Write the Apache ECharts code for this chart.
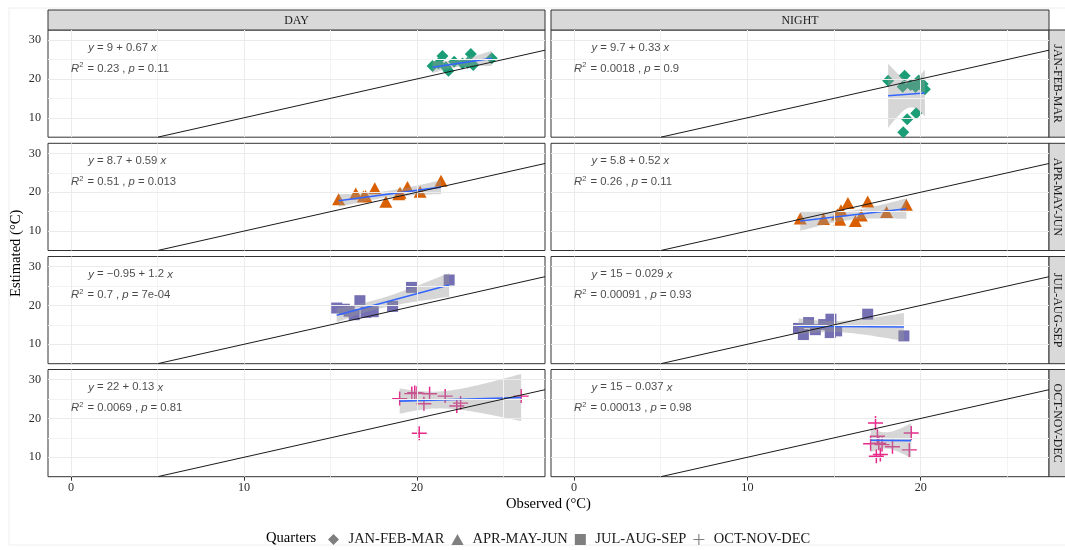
<!DOCTYPE html>
<html>
<head>
<meta charset="utf-8">
<script src="https://cdn.jsdelivr.net/npm/echarts@6/dist/echarts.min.js"></script>
<style>
  html, body { margin: 0; padding: 0; background: #ffffff; }
  #chart { width: 1065px; height: 550px; }
</style>
</head>
<body>
<div id="chart"></div>
<script>
// Facet labels
const periods = ['DAY', 'NIGHT'];
const quarters = ['JAN-FEB-MAR', 'APR-MAY-JUN', 'JUL-AUG-SEP', 'OCT-NOV-DEC'];
const quarterColors = ['#1B9E77', '#D95F02', '#7570B3', '#E7298A'];

// Observed vs estimated temperature (°C), one array per panel
const dayJFM = [[20.9,23.3],[21.24,24.0],[21.47,25.9],[21.67,23.0],[21.82,22.1],[22.15,24.45],[22.63,24.0],[22.93,24.2],[23.11,26.4],[23.25,23.6],[24.32,25.3]];
const dayAMJ = [[15.47,18.19],[16.46,19.68],[16.9,18.9],[17.03,19.03],[17.56,21.02],[18.2,17.57],[18.95,19.5],[19.02,19.88],[19.45,21.35],[20.18,20.14],[21.39,22.97]];
const dayJAS = [[15.36,19.34],[15.8,19.03],[16.08,18.5],[16.37,17.62],[16.7,21.22],[17.05,18.21],[17.47,18.39],[18.59,19.76],[19.68,24.65],[21.86,26.55]];
const dayOND = [[19.0,25.11],[19.7,26.4],[19.87,26.65],[20.0,26.5],[20.13,16.2],[20.4,23.8],[20.73,26.35],[21.63,25.75],[22.3,23.2],[22.52,23.95],[26.02,25.75]];
const nightJFM = [[18.12,19.55],[18.96,18.01],[18.99,6.27],[19.07,20.81],[19.22,9.61],[19.42,18.44],[19.7,17.93],[19.74,11.16],[19.88,19.6],[20.11,18.7],[20.24,17.34]];
const nightAMJ = [[13.05,13.22],[14.39,13.11],[15.19,14.3],[15.33,12.93],[15.4,15.38],[15.8,17.23],[16.23,12.57],[16.57,14.04],[16.94,17.64],[18.03,14.89],[19.17,16.8]];
const nightJAS = [[12.95,14.09],[13.23,12.5],[13.53,15.59],[13.92,13.76],[14.4,15.07],[14.78,13.01],[14.82,16.46],[15.15,13.45],[16.94,17.75],[19.03,12.16]];
const nightOND = [[17.11,13.47],[17.39,18.83],[17.44,10.26],[17.5,15.41],[17.58,13.6],[17.67,10.7],[17.77,13.27],[18.37,12.7],[19.34,11.9],[19.45,16.25]];

// Fitted regression: intercept, slope, R² and p per quarter
const dayIntercepts = [9, 8.7, -0.95, 22];
const daySlopes = [0.67, 0.59, 1.2, 0.13];
const dayR2 = ['0.23', '0.51', '0.7', '0.0069'];
const dayP = ['0.11', '0.013', '7e-04', '0.81'];
const nightIntercepts = [9.7, 5.8, 15, 15];
const nightSlopes = [0.33, 0.52, -0.029, -0.037];
const nightR2 = ['0.0018', '0.26', '0.00091', '0.00013'];
const nightP = ['0.9', '0.11', '0.93', '0.98'];

// Axes
const xRange = [-1.33, 27.4];
const yRange = [5, 32.6];
const xTicks = [0, 10, 20];
const yTicks = [10, 20, 30];
const xMinor = [5, 15, 25];
const yMinor = [15, 25];

// Two-sided 95% t quantiles by degrees of freedom
const tQuantile = { 6: 2.447, 7: 2.365, 8: 2.306, 9: 2.262, 10: 2.228, 11: 2.201, 12: 2.179 };

const panelPoints = [
  [dayJFM, dayAMJ, dayJAS, dayOND],
  [nightJFM, nightAMJ, nightJAS, nightOND]
];
const panelFits = [
  { a: dayIntercepts, b: daySlopes, r2: dayR2, p: dayP },
  { a: nightIntercepts, b: nightSlopes, r2: nightR2, p: nightP }
];

// Layout of the facet grid (pixels)
const colLeft = [48, 551];
const colWidth = [497, 498];
const rowTop = [30, 143.3, 256.5, 369.5];
const rowHeight = 107.2;
const serif = 'Liberation Serif';
const sans = 'Liberation Sans';

const symbols = ['diamond', 'triangle', 'rect',
  'path://M0,6.3H14V7.7H0Z M6.3,0H7.7V14H6.3Z'];
const symbolSizes = [[12, 12], [13, 12], [11, 11], [15, 14]];

function fmtNum(v) {
  return v < 0 ? '\u2212' + (-v) : String(v);
}

// Confidence band around the fitted line (lm-style 95% interval)
function confidenceBand(pts, a, b) {
  const n = pts.length;
  const xs = pts.map(p => p[0]);
  const mx = xs.reduce((s, v) => s + v, 0) / n;
  const sxx = xs.reduce((s, v) => s + (v - mx) * (v - mx), 0);
  const sse = pts.reduce((s, p) => s + Math.pow(p[1] - (a + b * p[0]), 2), 0);
  const sd = Math.sqrt(sse / (n - 2));
  const t = tQuantile[n - 2];
  const x0 = Math.min.apply(null, xs), x1 = Math.max.apply(null, xs);
  const upper = [], lower = [];
  const steps = 60;
  for (let k = 0; k <= steps; k++) {
    const x = x0 + (x1 - x0) * k / steps;
    const fit = a + b * x;
    const se = sd * Math.sqrt(1 / n + (x - mx) * (x - mx) / sxx);
    upper.push([x, fit + t * se]);
    lower.push([x, fit - t * se]);
  }
  return { poly: upper.concat(lower.reverse()), x0: x0, x1: x1 };
}

const grids = [], xAxes = [], yAxes = [], series = [];
let gi = 0;
for (let r = 0; r < 4; r++) {
  for (let c = 0; c < 2; c++) {
    const pts = panelPoints[c][r];
    const fitInfo = panelFits[c];
    const a = fitInfo.a[r], b = fitInfo.b[r];
    const isBottom = r === 3, isLeft = c === 0;

    grids.push({
      left: colLeft[c], top: rowTop[r], width: colWidth[c], height: rowHeight,
      show: true, backgroundColor: '#ffffff', borderColor: '#333333', borderWidth: 1
    });
    xAxes.push({
      gridIndex: gi, type: 'value', min: xRange[0], max: xRange[1], splitNumber: 3,
      axisLine: { show: false },
      splitLine: { show: false },
      axisTick: { show: isBottom, length: 4, customValues: xTicks, lineStyle: { color: '#333333', width: 1 } },
      axisLabel: { show: isBottom, customValues: xTicks,
        margin: 5, fontFamily: serif, fontSize: 12.2, color: '#2b2b2b' }
    });
    yAxes.push({
      gridIndex: gi, type: 'value', min: yRange[0], max: yRange[1], splitNumber: 3,
      axisLine: { show: false },
      splitLine: { show: false },
      axisTick: { show: isLeft, length: 4, customValues: yTicks, lineStyle: { color: '#333333', width: 1 } },
      axisLabel: { show: isLeft, customValues: yTicks,
        margin: 7, fontFamily: serif, fontSize: 12.2, color: '#2b2b2b' }
    });

    // Panel gridlines
    const major = { color: '#EBEBEB', width: 1, type: 'solid' };
    const minor = { color: '#F3F3F3', width: 1, type: 'solid' };
    const lines = []
      .concat(xMinor.map(v => ({ xAxis: v, lineStyle: minor })))
      .concat(yMinor.map(v => ({ yAxis: v, lineStyle: minor })))
      .concat(xTicks.map(v => ({ xAxis: v, lineStyle: major })))
      .concat(yTicks.map(v => ({ yAxis: v, lineStyle: major })));
    series.push({
      type: 'line', xAxisIndex: gi, yAxisIndex: gi, z: 1, silent: true,
      data: [[xRange[0], yRange[0]]], symbol: 'none', lineStyle: { width: 0 },
      markLine: { silent: true, symbol: ['none', 'none'], label: { show: false },
        animation: false, data: lines }
    });

    // Observations
    series.push({
      type: 'scatter', name: quarters[r], xAxisIndex: gi, yAxisIndex: gi, z: 2, silent: true,
      data: pts, symbol: symbols[r], symbolSize: symbolSizes[r],
      itemStyle: { color: quarterColors[r], opacity: 1 }
    });

    // Confidence band
    const band = confidenceBand(pts, a, b);
    series.push({
      type: 'custom', xAxisIndex: gi, yAxisIndex: gi, z: 3, silent: true,
      data: [band.poly[0]],
      renderItem: (function (poly) {
        return function (params, api) {
          return {
            type: 'polygon',
            shape: { points: poly.map(p => api.coord(p)) },
            style: { fill: 'rgba(153,153,153,0.4)' }
          };
        };
      })(band.poly)
    });

    // Fitted line
    series.push({
      type: 'line', xAxisIndex: gi, yAxisIndex: gi, z: 4, silent: true, symbol: 'none',
      data: [[band.x0, a + b * band.x0], [band.x1, a + b * band.x1]],
      lineStyle: { color: '#3366FF', width: 1.6 }
    });

    // 1:1 reference line
    const lo = Math.max(xRange[0], yRange[0]);
    const hi = Math.min(xRange[1], yRange[1]);
    series.push({
      type: 'line', xAxisIndex: gi, yAxisIndex: gi, z: 5, silent: true, symbol: 'none',
      data: [[lo, lo], [hi, hi]],
      lineStyle: { color: '#1a1a1a', width: 1 }
    });

    // Regression equation and fit statistics
    const eq = '{i|y} = ' + fmtNum(a) + (b < 0 ? ' \u2212 ' : ' + ') + Math.abs(b) + ' {i|x}';
    const stat = '{i|R}{sup|2} = ' + fitInfo.r2[r] + ' , {i|p} = ' + fitInfo.p[r];
    series.push({
      type: 'scatter', xAxisIndex: gi, yAxisIndex: gi, z: 6, silent: true,
      symbolSize: 0,
      data: [
        { value: [1, 28], label: { formatter: function () { return eq; } } },
        { value: [0, 22.6], label: { formatter: function () { return stat; } } }
      ],
      label: {
        show: true, position: 'right', distance: 0,
        fontFamily: sans, fontSize: 11.3, color: '#1a1a1a',
        rich: {
          i: { fontFamily: sans, fontSize: 11.3, fontStyle: 'italic', color: '#1a1a1a' },
          sup: { fontFamily: sans, fontSize: 7.5, color: '#1a1a1a', padding: [0, 1, 7, 0] }
        }
      }
    });
    gi++;
  }
}

// Strips, axis titles and legend heading
const graphics = [];
graphics.push({
  type: 'rect', z: -10, silent: true,
  shape: { x: 9, y: 8, width: 1070, height: 537 },
  style: { fill: 'none', stroke: '#EEEEEE', lineWidth: 1 }
});
for (let c = 0; c < 2; c++) {
  graphics.push({
    type: 'rect', silent: true,
    shape: { x: colLeft[c], y: 10, width: colWidth[c], height: 20 },
    style: { fill: '#D9D9D9', stroke: '#333333', lineWidth: 1 }
  });
  graphics.push({
    type: 'text', silent: true, x: colLeft[c] + colWidth[c] / 2, y: 20.5,
    style: { text: periods[c], x: 0, y: 0, align: 'center', verticalAlign: 'middle',
      textAlign: 'center', textVerticalAlign: 'middle',
      fontFamily: serif, fontSize: 11.9, fill: '#1a1a1a' }
  });
}
for (let r = 0; r < 4; r++) {
  graphics.push({
    type: 'rect', silent: true,
    shape: { x: 1049, y: rowTop[r], width: 20, height: rowHeight },
    style: { fill: '#D9D9D9', stroke: '#333333', lineWidth: 1 }
  });
  graphics.push({
    type: 'text', silent: true, x: 1057.5, y: rowTop[r] + rowHeight / 2, rotation: -Math.PI / 2,
    style: { text: quarters[r], x: 0, y: 0, align: 'center', verticalAlign: 'middle',
      textAlign: 'center', textVerticalAlign: 'middle',
      fontFamily: serif, fontSize: 11.9, fill: '#1a1a1a' }
  });
}
graphics.push({
  type: 'text', silent: true, x: 548.5, y: 504,
  style: { text: 'Observed (°C)', x: 0, y: 0, align: 'center', verticalAlign: 'middle',
    textAlign: 'center', textVerticalAlign: 'middle',
    fontFamily: serif, fontSize: 14.6, fill: '#000000' }
});
graphics.push({
  type: 'text', silent: true, x: 16, y: 253.3, rotation: Math.PI / 2,
  style: { text: 'Estimated (°C)', x: 0, y: 0, align: 'center', verticalAlign: 'middle',
    textAlign: 'center', textVerticalAlign: 'middle',
    fontFamily: serif, fontSize: 14.6, fill: '#000000' }
});
graphics.push({
  type: 'text', silent: true, x: 266, y: 538,
  style: { text: 'Quarters', x: 0, y: 0, align: 'left', verticalAlign: 'middle',
    textAlign: 'left', textVerticalAlign: 'middle',
    fontFamily: serif, fontSize: 14.6, fill: '#000000' }
});

const legendIcons = [
  'path://M5,0L10,5L5,10L0,5Z',
  'path://M5,0L10,9L0,9Z',
  'path://M0,0H10V10H0Z',
  'path://M0,6.3H14V7.7H0Z M6.3,0H7.7V14H6.3Z'
];

const option = {
  animation: false,
  backgroundColor: '#ffffff',
  textStyle: { fontFamily: serif },
  grid: grids,
  xAxis: xAxes,
  yAxis: yAxes,
  legend: {
    left: 323, top: 527, orient: 'horizontal',
    itemWidth: 20, itemHeight: 11, itemGap: 7, selectedMode: false,
    symbolKeepAspect: true,
    textStyle: { fontFamily: serif, fontSize: 14.5, color: '#1a1a1a' },
    data: quarters.map((q, i) => ({ name: q, icon: legendIcons[i], itemStyle: { color: '#7F7F7F', borderWidth: 0 } }))
  },
  graphic: graphics,
  series: series
};

const chart = echarts.init(document.getElementById('chart'));
chart.setOption(option);
</script>
</body>
</html>
